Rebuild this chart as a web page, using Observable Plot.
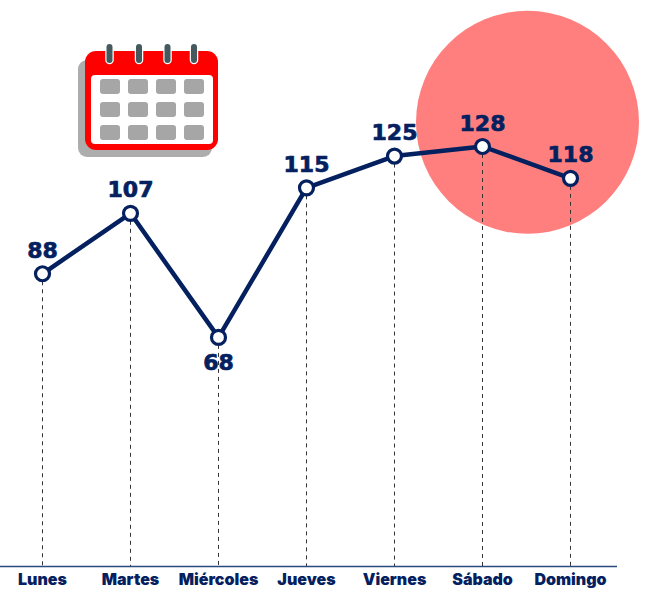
<!DOCTYPE html>
<html>
<head>
<meta charset="utf-8">
<script src="https://cdn.jsdelivr.net/npm/d3@7"></script>
<script src="https://cdn.jsdelivr.net/npm/@observablehq/plot@0.6"></script>
<style>
html,body{margin:0;padding:0;background:#fff}
svg{display:block}
</style>
</head>
<body>
<div id="chart"></div>
<script>
const days = ["Lunes","Martes","Miércoles","Jueves","Viernes","Sábado","Domingo"];
const values = [88,107,68,115,125,128,118];
const labelBelow = ["Miércoles"];
const navy = "#04205f";
const baseline = -4;
const rows = days.map((day,i)=>({day,value:values[i]}));

function calendar(){
  const g = d3.create("svg:g");
  g.append("rect").attr("x",78).attr("y",60).attr("width",134).attr("height",97).attr("rx",9).attr("fill","#adadad");
  g.append("rect").attr("x",85).attr("y",51).attr("width",133).attr("height",99).attr("rx",11).attr("fill","#fe0000");
  g.append("rect").attr("x",91).attr("y",75).attr("width",122).attr("height",69).attr("rx",4).attr("fill","#fff");
  for(const cy of [79,102,125]) for(const cx of [100,128,156,184])
    g.append("rect").attr("x",cx).attr("y",cy).attr("width",20).attr("height",15).attr("rx",3).attr("fill","#a6a6a6");
  for(const cx of [109.5,139,167.5,194])
    g.append("line").attr("x1",cx).attr("x2",cx).attr("y1",47).attr("y2",60).attr("stroke","#fff").attr("stroke-width",8.5).attr("stroke-linecap","round");
  for(const cx of [109.5,139,167.5,194])
    g.append("line").attr("x1",cx).attr("x2",cx).attr("y1",47).attr("y2",60).attr("stroke","#455a5f").attr("stroke-width",6).attr("stroke-linecap","round");
  return g.node();
}

const valueText = {x:"day",y:"value",text:d=>String(d.value),fill:navy,stroke:navy,strokeWidth:0.7,fontSize:22,fontWeight:700,fontFamily:"DejaVu Sans"};

const chart = Plot.plot({
  width:658, height:593,
  marginLeft:0, marginRight:41, marginTop:0, marginBottom:27,
  style:{background:"#fff",overflow:"visible"},
  x:{type:"point",domain:days,range:[40,572],padding:0,axis:null,label:null},
  y:{domain:[baseline,128],range:[566,146],axis:null,label:null},
  marks:[
    Plot.dot([{day:"Sábado",value:135.6}],{x:"day",y:"value",r:111.5,dx:45,fill:"#ff7f7f",stroke:"none"}),
    calendar,
    Plot.ruleX(rows,{x:"day",y1:"value",y2:baseline,stroke:"#333",strokeWidth:1,strokeDasharray:"4,4"}),
    Plot.ruleY([baseline],{stroke:"#2a4a80",strokeWidth:1.5}),
    Plot.line(rows,{x:"day",y:"value",stroke:navy,strokeWidth:4.5,curve:"linear"}),
    Plot.dot(rows,{x:"day",y:"value",r:7,fill:"#fff",stroke:navy,strokeWidth:3.2}),
    Plot.text(rows.filter(d=>!labelBelow.includes(d.day)),{...valueText,dy:-23}),
    Plot.text(rows.filter(d=>labelBelow.includes(d.day)),{...valueText,dy:26}),
    Plot.axisX({domain:days,anchor:"bottom",tickSize:0,tickPadding:7,fontSize:16,fontWeight:900,fontFamily:"Inter",fill:navy,label:null})
  ]
});
document.getElementById("chart").append(chart);
</script>
</body>
</html>
